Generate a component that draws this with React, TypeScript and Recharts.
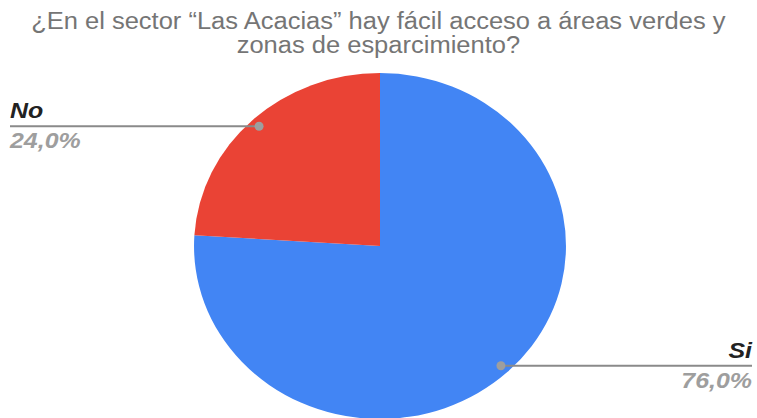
import { PieChart, Pie, Cell } from "recharts";

const TITLE_LINES = [
  "¿En el sector “Las Acacias” hay fácil acceso a áreas verdes y",
  "zonas de esparcimiento?",
];
const NAMES = ["Si", "No"];
const VALUES = [76, 24];
const COLORS = ["#4285F4", "#EA4335"];

const data = NAMES.map((name, i) => ({ name, value: VALUES[i] }));

const W = 757;
const H = 418;
const CX = 380;
const CY = 246;
const R = 173;
const STRETCH = 1.075;
const TEXT_STRETCH = 1.085;
const RADIAN = Math.PI / 180;
const FONT = "'Liberation Sans', Arial, sans-serif";

const renderLabel = (props: any) => {
  const { cx, cy, midAngle, outerRadius, name, percent } = props;
  const cos = Math.cos(-midAngle * RADIAN);
  const sin = Math.sin(-midAngle * RADIAN);
  const dx = cx + outerRadius * 0.95 * STRETCH * cos;
  const dy = cy + outerRadius * 0.95 * sin;
  const left = dx < cx;
  const endX = left ? 10 : 752;
  const pct = (percent * 100).toFixed(1).replace(".", ",") + "%";
  const tf = `translate(${endX},0) scale(${TEXT_STRETCH},1) translate(${-endX},0)`;
  return (
    <g>
      <line x1={dx} y1={dy} x2={endX} y2={dy} stroke="#8a8a8a" strokeWidth={2} />
      <circle cx={dx} cy={dy} r={4.5} fill="#9e9e9e" />
      <text
        x={endX}
        y={dy - 8}
        transform={tf}
        textAnchor={left ? "start" : "end"}
        fill="#222222"
        fontSize={23}
        fontWeight="bold"
        fontStyle="italic"
        fontFamily={FONT}
      >
        {name}
      </text>
      <text
        x={endX}
        y={dy + 22}
        transform={tf}
        textAnchor={left ? "start" : "end"}
        fill="#9e9e9e"
        fontSize={23}
        fontWeight="bold"
        fontStyle="italic"
        fontFamily={FONT}
      >
        {pct}
      </text>
    </g>
  );
};

export default function App() {
  return (
    <div style={{ position: "relative", width: W, height: H, fontFamily: FONT, background: "#fff", overflow: "hidden" }}>
      <style>{`body{margin:0} .recharts-pie-sector{transform:scaleX(${STRETCH});transform-origin:${CX}px ${CY}px}`}</style>
      <div
        style={{
          position: "absolute",
          top: 9,
          left: 0,
          width: W,
          textAlign: "center",
          color: "#757575",
          fontSize: 23.5,
          lineHeight: "24px",
          whiteSpace: "nowrap",
          transform: `scaleX(${TEXT_STRETCH})`,
          transformOrigin: "380px 0",
          zIndex: 1,
        }}
      >
        {TITLE_LINES.map((l) => (
          <div key={l}>{l}</div>
        ))}
      </div>
      <PieChart width={W} height={H} margin={{ top: 0, right: 0, bottom: 0, left: 0 }}>
        <Pie
          data={data}
          dataKey="value"
          nameKey="name"
          cx={CX}
          cy={CY}
          outerRadius={R}
          startAngle={90}
          endAngle={-270}
          stroke="none"
          label={renderLabel}
          labelLine={false}
          isAnimationActive={false}
        >
          {data.map((_, i) => (
            <Cell key={i} fill={COLORS[i]} />
          ))}
        </Pie>
      </PieChart>
    </div>
  );
}
